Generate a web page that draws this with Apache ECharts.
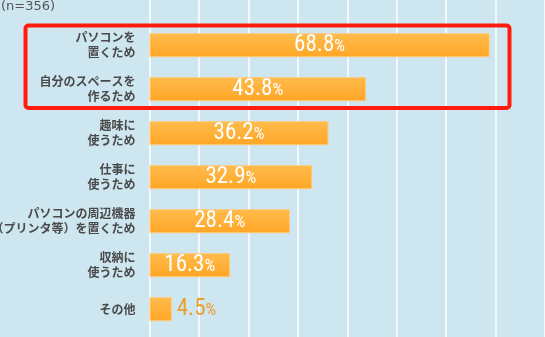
<!DOCTYPE html>
<html>
<head>
<meta charset="utf-8">
<script src="https://cdn.jsdelivr.net/npm/echarts@6/dist/echarts.min.js"></script>
<style>
  html, body { margin: 0; padding: 0; background: #cde6f0; }
  #chart { width: 545px; height: 337px; }
</style>
</head>
<body>
<div id="chart"></div>
<script>
// Reasons for buying (n=356), percent of respondents
const categories = [
  'パソコンを\n置くため',
  '自分のスペースを\n作るため',
  '趣味に\n使うため',
  '仕事に\n使うため',
  'パソコンの周辺機器\n（プリンタ等）を置くため',
  '収納に\n使うため',
  'その他'
];
const values = [68.8, 43.8, 36.2, 32.9, 28.4, 16.3, 4.5];
const sampleNote = '(n=356)';

const AXIS_MAX = 80;
const valueFont = '"Roboto Condensed", "DejaVu Sans Condensed", sans-serif';

const chart = echarts.init(document.getElementById('chart'), null, { renderer: 'canvas' });

function valueRich(color) {
  return {
    n: { fontFamily: valueFont, fontSize: 23, color: color },
    p: { fontFamily: valueFont, fontSize: 17, color: color, padding: [4, 0, 0, 0] }
  };
}

const barData = values.map(function (v) {
  const small = v < 10;
  return {
    value: v,
    label: small ? { position: 'right', distance: 5, rich: valueRich('#eb9e2c') } : undefined
  };
});

// the long two-line label sits a little lower than the others
const categoryData = categories.map(function (c, i) {
  return i === 4 ? { value: c, textStyle: { padding: [6, 0, 0, 0] } } : c;
});

chart.setOption({
  backgroundColor: '#cde6f0',
  animation: false,
  grid: [
    { left: 149.5, right: 0, top: 23.2, height: 308, containLabel: false, outerBoundsMode: 'none' },
    { left: 149.5, right: 0, top: 0, bottom: 0, containLabel: false, outerBoundsMode: 'none' }
  ],
  xAxis: [
    { gridIndex: 0, type: 'value', min: 0, max: AXIS_MAX, show: false },
    {
      gridIndex: 1, type: 'value', min: 0, max: AXIS_MAX, interval: 10,
      axisLine: { show: false }, axisTick: { show: false }, axisLabel: { show: false },
      splitLine: { show: true, lineStyle: { color: '#ffffff', width: 1.5 } }
    }
  ],
  yAxis: [
    {
      gridIndex: 0, type: 'category', inverse: true, data: categoryData,
      axisLine: { show: false }, axisTick: { show: false },
      axisLabel: {
        margin: 14,
        align: 'right',
        color: '#4a4a4a',
        fontFamily: '"Noto Sans CJK JP", sans-serif',
        fontWeight: 'bold',
        fontSize: 12,
        lineHeight: 15
      }
    },
    { gridIndex: 1, type: 'value', show: false }
  ],
  series: [{
    type: 'bar',
    xAxisIndex: 0,
    yAxisIndex: 0,
    data: barData,
    barWidth: 24,
    itemStyle: {
      color: new echarts.graphic.LinearGradient(0, 0, 0, 1, [
        { offset: 0, color: '#ffbb4c' },
        { offset: 1, color: '#ffa626' }
      ]),
      borderColor: '#ffc978',
      borderWidth: 1
    },
    label: {
      show: true,
      position: 'inside',
      formatter: function (p) { return '{n|' + p.value.toFixed(1) + '}{p|%}'; },
      rich: valueRich('#ffffff')
    },
    z: 3
  }],
  graphic: [
    {
      type: 'text',
      left: 1,
      top: 0,
      style: {
        text: sampleNote,
        fill: '#555555',
        font: '13px "DejaVu Sans", sans-serif'
      }
    },
    {
      type: 'rect',
      shape: { x: 25.5, y: 25.5, width: 484, height: 82.5, r: 3 },
      style: { fill: 'none', stroke: '#ff1c0c', lineWidth: 4 },
      z: 10
    }
  ]
});
</script>
</body>
</html>
